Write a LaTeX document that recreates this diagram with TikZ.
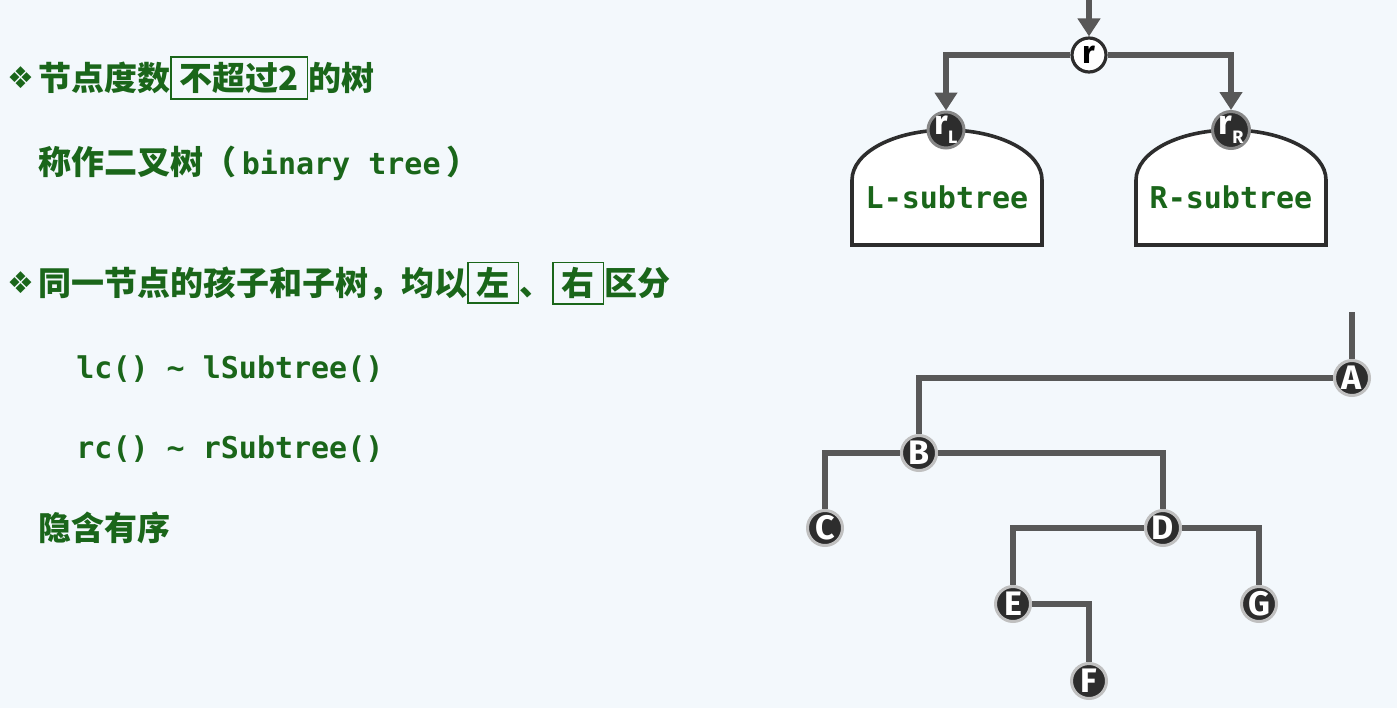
\documentclass[tikz,border=0pt]{standalone}
\usepackage{fontspec}
\setmainfont{Fira Sans}
\setmonofont{DejaVu Sans Mono}
\newfontfamily\cjk{Noto Sans CJK SC}
\newfontfamily\symfont{DejaVu Sans}
\usetikzlibrary{arrows.meta}

\definecolor{bg}{RGB}{243,248,252}
\definecolor{txtgreen}{RGB}{26,102,26}
\definecolor{edgegray}{RGB}{88,88,88}
\definecolor{nodedark}{RGB}{45,45,45}
\definecolor{ringlight}{RGB}{192,192,192}
\definecolor{ringmid}{RGB}{135,135,135}

\newcommand{\hlbox}[1]{{\fboxsep=2.2pt\fboxrule=0.7pt\fbox{\hspace{1.8pt}#1\hspace{1.8pt}}}}
\newcommand{\bul}{{\symfont\fontsize{15}{16}\selectfont ❖}}

\begin{document}
\begin{tikzpicture}[x=0.5pt, y=-0.5pt,
    cn/.style={anchor=west, inner sep=0pt, text=txtgreen, font=\cjk\bfseries\fontsize{16.5}{20}\selectfont},
    code/.style={anchor=west, inner sep=0pt, text=txtgreen, font=\ttfamily\bfseries\fontsize{15}{18}\selectfont},
    edge/.style={draw=edgegray, line width=3pt},
    arr/.style={edge, -{Triangle[length=9pt, width=11pt]}},
    tnode/.style={circle, fill=nodedark, draw=ringlight, line width=1.5pt, minimum size=17.5pt, inner sep=0pt,
        text=white, font=\bfseries\fontsize{17}{17}\selectfont},
    snode/.style={tnode, draw=ringmid, minimum size=18pt},
    dome/.style={draw=nodedark, fill=white, line width=1.8pt}]
    \useasboundingbox[fill=bg] (0,0) rectangle (1397,708);

    % Left side text
    \node[anchor=west, inner sep=0pt, text=txtgreen] (b1) at (7,78) {\bul};
    \node[cn] (t1) at (38,78) {节点度数\hlbox{不超过2}的树};
    \node[cn] (t2) at (38,163) {称作二叉树（\,{\ttfamily\bfseries\fontsize{15}{18}\selectfont binary tree}\,）};
    \node[anchor=west, inner sep=0pt, text=txtgreen] (b2) at (7,283) {\bul};
    \node[cn] (t3) at (38,283) {同一节点的孩子和子树，均以\hlbox{左}、\hlbox{右}区分};
    \node[code] (t4) at (76,369) {lc() \textasciitilde{} lSubtree()};
    \node[code] (t5) at (76,449) {rc() \textasciitilde{} rSubtree()};
    \node[cn] (t6) at (38,528) {隐含有序};

    % Root with two subtrees
    \draw[dome] (852,245) -- (852,180) arc[start angle=180, end angle=0, x radius=47.5pt, y radius=25pt] -- (1042,245) -- cycle;
    \draw[dome] (1136,245) -- (1136,180) arc[start angle=180, end angle=0, x radius=47.5pt, y radius=25pt] -- (1326,245) -- cycle;
    \node[code, anchor=center] (Lsub) at (947,197) {L-subtree};
    \node[code, anchor=center] (Rsub) at (1231,197) {R-subtree};
    \node[circle, fill=white, draw=nodedark, line width=1.6pt, minimum size=17pt, inner sep=0pt,
        font=\bfseries\fontsize{16}{16}\selectfont] (r) at (1089,55) {r};
    \node[snode] (rL) at (946,130) {r\raisebox{-0.5ex}{\fontsize{9}{9}\selectfont L}};
    \node[snode] (rR) at (1231,130) {r\raisebox{-0.5ex}{\fontsize{9}{9}\selectfont R}};
    \coordinate (rtop) at (1089,0);
    \draw[arr] (rtop) -- (r);
    \draw[arr] (r) -| (rL);
    \draw[arr] (r) -| (rR);

    % Example binary tree
    \node[tnode] (A) at (1352,378) {A};
    \node[tnode] (B) at (919,453) {B};
    \node[tnode] (C) at (825,528) {C};
    \node[tnode] (D) at (1163,528) {D};
    \node[tnode] (E) at (1013,604) {E};
    \node[tnode] (G) at (1259,604) {G};
    \node[tnode] (F) at (1089,681) {F};
    \coordinate (Atop) at (1352,312);
    \draw[edge] (Atop) -- (A);
    \draw[edge] (A) -| (B);
    \draw[edge] (B) -| (C);
    \draw[edge] (B) -| (D);
    \draw[edge] (D) -| (E);
    \draw[edge] (D) -| (G);
    \draw[edge] (E) -| (F);
\end{tikzpicture}
\end{document}
